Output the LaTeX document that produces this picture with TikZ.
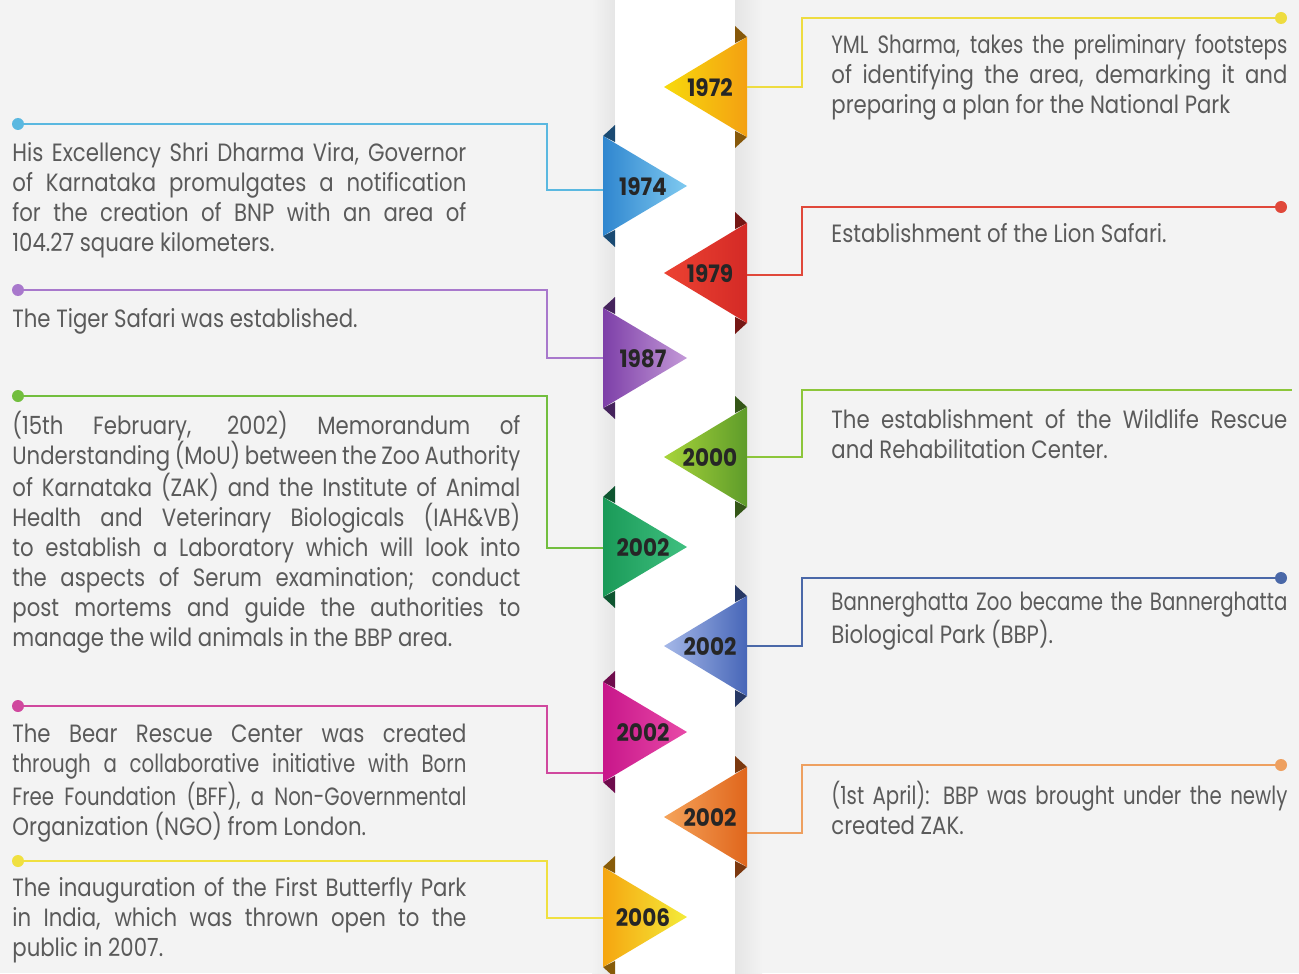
\documentclass[tikz,border=0pt]{standalone}
\usepackage{fontspec}
\setmainfont{Poppins}[FakeStretch=0.85]
\newfontfamily\narrowfont{Poppins}[FakeStretch=0.79]
\newfontfamily\yearfont{Poppins}[FakeStretch=0.9]
\usepackage{xcolor}

\definecolor{bgcol}{HTML}{F3F3F3}
\definecolor{txtcol}{HTML}{5A5A5A}
% triangle colours: dark (base side) / light (tip side) / connector
\definecolor{ayD}{HTML}{F4A012}\definecolor{ayL}{HTML}{F7DA0C}\definecolor{ayC}{HTML}{EEDC40}
\definecolor{abD}{HTML}{2F86CF}\definecolor{abL}{HTML}{80CAF0}\definecolor{abC}{HTML}{5AB8E0}
\definecolor{arD}{HTML}{D42A26}\definecolor{arL}{HTML}{EC4232}\definecolor{arC}{HTML}{E0483A}
\definecolor{apD}{HTML}{7D3FA8}\definecolor{apL}{HTML}{C49AD8}\definecolor{apC}{HTML}{A878CC}
\definecolor{alD}{HTML}{5E9C2A}\definecolor{alL}{HTML}{A8D43A}\definecolor{alC}{HTML}{8CC63A}
\definecolor{agD}{HTML}{1A9A58}\definecolor{agL}{HTML}{40C080}\definecolor{agC}{HTML}{72BE3E}
\definecolor{anD}{HTML}{4766B8}\definecolor{anL}{HTML}{A5B8E8}\definecolor{anC}{HTML}{4A68A8}
\definecolor{amD}{HTML}{C8168A}\definecolor{amL}{HTML}{E84AA8}\definecolor{amC}{HTML}{D0489E}
\definecolor{aoD}{HTML}{E0661C}\definecolor{aoL}{HTML}{F5A35A}\definecolor{aoC}{HTML}{EEA060}
\definecolor{azD}{HTML}{F5A510}\definecolor{azL}{HTML}{F4EC3A}\definecolor{azC}{HTML}{F0E040}

\newcommand{\jline}[2][227pt]{\makebox[#1][s]{#2}}

\tikzset{
 eventtext/.style={anchor=north west, inner sep=0pt, align=left, text=txtcol,
   font=\fontsize{12.5}{15}\selectfont},
 yearlabel/.style={inner sep=0pt, text=black!85,
   font=\yearfont\bfseries\fontsize{12}{14}\selectfont},
 linkline/.style={line width=1.4pt},
 enddot/.style={circle, inner sep=0pt, minimum size=6pt},
}

\begin{document}
\begin{tikzpicture}[x=0.5pt, y=-0.5pt]
        \fill[bgcol] (0,0) rectangle (1299,973);
        \useasboundingbox (0,0) rectangle (1299,973);
        % the ribbon
        \shade[left color=bgcol, right color=black!10] (592,0) rectangle (615,973);
        \fill[white] (615,0) rectangle (735,973);
        \shade[left color=black!10, right color=bgcol] (735,0) rectangle (762,973);

        % flags on the left, pointing right
        \foreach \yc/\jy/\ty/\yr/\cc/\nm in {186/190/124/1974/ab/b, 358/358/290/1987/ap/p,
            547/548/396/2002/ag/g, 732/773/706/2002/am/m, 917/918/861/2006/az/z} {
            \fill[\cc D!55!black] (603,\yc-50) -- (615,\yc-61) -- (615,\yc-44) -- cycle;
            \fill[\cc D!55!black] (603,\yc+50) -- (615,\yc+61) -- (615,\yc+44) -- cycle;
            \shade[left color=\cc D, right color=\cc L] (603,\yc-50) -- (687,\yc) -- (603,\yc+50) -- cycle;
            \node[yearlabel] (y\nm) at (643,\yc+1) {\yr};
            \coordinate (j\nm) at (603,\jy);
            \coordinate (k\nm) at (547,\jy);
            \node[enddot, fill=\cc C] (d\nm) at (18,\ty) {};
            \draw[linkline, \cc C] (d\nm) -| (k\nm) -- (j\nm);
        }

        % flags on the right, pointing left
        \foreach \yc/\jy/\ty/\yr/\cc/\nm in {87/87/18/1972/ay/y, 273/275/207/1979/ar/r,
            646/646/578/2002/an/n, 817/833/765/2002/ao/o} {
            \fill[\cc D!55!black] (747,\yc-50) -- (735,\yc-61) -- (735,\yc-44) -- cycle;
            \fill[\cc D!55!black] (747,\yc+50) -- (735,\yc+61) -- (735,\yc+44) -- cycle;
            \shade[left color=\cc L, right color=\cc D] (747,\yc-50) -- (664,\yc) -- (747,\yc+50) -- cycle;
            \node[yearlabel] (y\nm) at (710,\yc+1) {\yr};
            \coordinate (j\nm) at (747,\jy);
            \coordinate (k\nm) at (802,\jy);
            \node[enddot, fill=\cc C] (d\nm) at (1281,\ty) {};
            \draw[linkline, \cc C] (j\nm) -- (k\nm) |- (d\nm);
        }
        % 2000 runs off the edge, no dot
        \fill[alD!55!black] (747,407) -- (735,396) -- (735,413) -- cycle;
        \fill[alD!55!black] (747,507) -- (735,518) -- (735,501) -- cycle;
        \shade[left color=alL, right color=alD] (747,407) -- (664,457) -- (747,507) -- cycle;
        \node[yearlabel] (yl) at (710,458) {2000};
        \coordinate (jl) at (747,457);
        \coordinate (kl) at (802,457);
        \coordinate (el) at (1292,390);
        \draw[linkline, alC] (jl) -- (kl) |- (el);

        % texts, right side
        \node[eventtext] (ty) at (831,34) {\jline[228pt]{\narrowfont YML Sharma, takes the preliminary footsteps}\\
            \jline[228pt]{of identifying the area, demarking it and}\\preparing a plan for the National Park};
        \node[eventtext] (tr) at (831,223) {Establishment of the Lion Safari.};
        \node[eventtext] (tl) at (831,409) {\jline[228pt]{The establishment of the Wildlife Rescue}\\
            and Rehabilitation Center.};
        \node[eventtext] (tn) at (831,592) {\jline[228pt]{\narrowfont Bannerghatta Zoo became the Bannerghatta}\\
            Biological Park (BBP).};
        \node[eventtext] (to) at (831,781) {\jline[228pt]{\narrowfont (1st April): BBP was brought under the newly}\\
            created ZAK.};

        % texts, left side
        \node[eventtext] (tb) at (12,142) {\jline{His Excellency Shri Dharma Vira, Governor}\\
            \jline{of Karnataka promulgates a notification}\\
            \jline{for the creation of BNP with an area of}\\104.27 square kilometers.};
        \node[eventtext] (tp) at (12,308) {The Tiger Safari was established.};
        \node[eventtext] (tg) at (12,411) {\jline[254pt]{(15th February, 2002) Memorandum of}\\
            \jline[254pt]{Understanding (MoU) between the Zoo Authority}\\
            \jline[254pt]{of Karnataka (ZAK) and the Institute of Animal}\\
            \jline[254pt]{Health and Veterinary Biologicals (IAH\&VB)}\\
            \jline[254pt]{to establish a Laboratory which will look into}\\
            \jline[254pt]{the aspects of Serum examination; conduct}\\
            \jline[254pt]{post mortems and guide the authorities to}\\
            manage the wild animals in the BBP area.};
        \node[eventtext] (tm) at (12,724) {\jline{The Bear Rescue Center was created}\\
            \jline{\narrowfont through a collaborative initiative with Born}\\
            \jline{\narrowfont Free Foundation (BFF), a Non-Governmental}\\Organization (NGO) from London.};
        \node[eventtext] (tz) at (12,877) {\jline{The inauguration of the First Butterfly Park}\\
            \jline{in India, which was thrown open to the}\\public in 2007.};
    \end{tikzpicture}
\end{document}
